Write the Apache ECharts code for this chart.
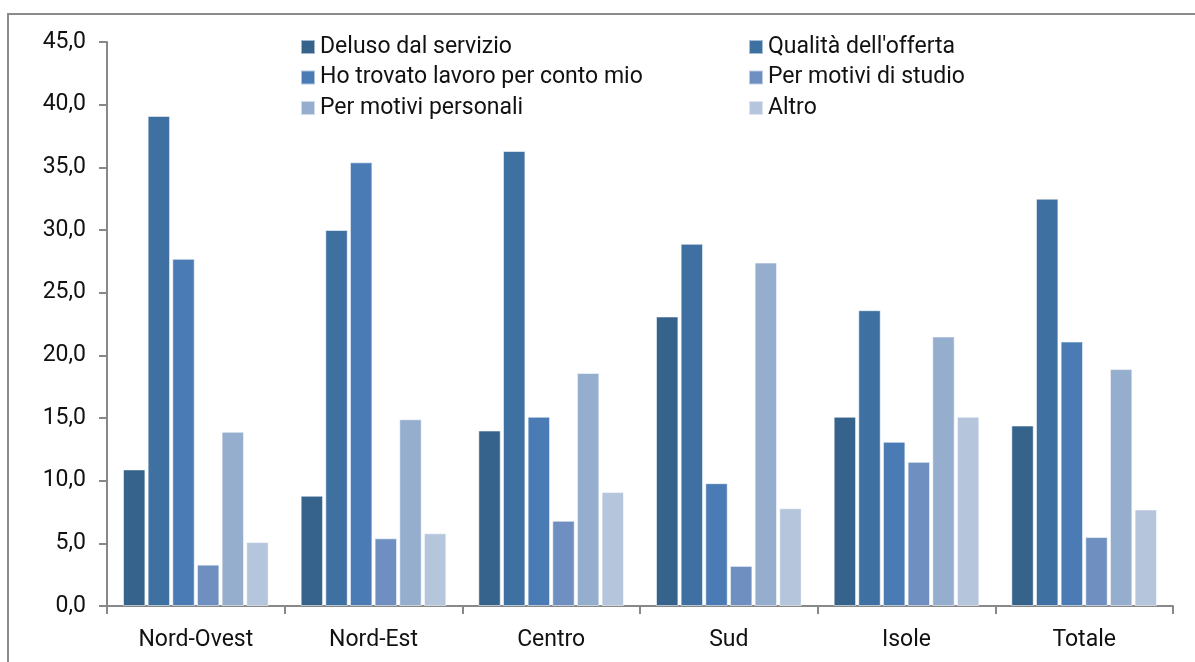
<!DOCTYPE html>
<html>
<head>
<meta charset="utf-8">
<script src="https://cdn.jsdelivr.net/npm/echarts@6/dist/echarts.min.js"></script>
<style>
html,body{margin:0;padding:0;background:#fff;}
#chart{width:1195px;height:662px;}
</style>
</head>
<body>
<div id="chart"></div>
<script>
const categories = ['Nord-Ovest','Nord-Est','Centro','Sud','Isole','Totale'];
const seriesNames = ['Deluso dal servizio','Qualità dell\'offerta','Ho trovato lavoro per conto mio','Per motivi di studio','Per motivi personali','Altro'];
const deluso    = [10.9, 8.8, 14.0, 23.1, 15.1, 14.4];
const qualita   = [39.1, 30.0, 36.3, 28.9, 23.6, 32.5];
const hoTrovato = [27.7, 35.4, 15.1, 9.8, 13.1, 21.1];
const studio    = [3.3, 5.4, 6.8, 3.2, 11.5, 5.5];
const personali = [13.9, 14.9, 18.6, 27.4, 21.5, 18.9];
const altro     = [5.1, 5.8, 9.1, 7.8, 15.1, 7.7];
const colors = ['#35638c','#3e70a1','#4a7bb4','#6e8fc0','#95aecd','#b4c5dc'];

const values = [deluso, qualita, hoTrovato, studio, personali, altro];
const FONT = 'Roboto';

const chart = echarts.init(document.getElementById('chart'), null, {renderer:'canvas'});
const legendCommon = {
  orient: 'vertical',
  top: 30,
  itemWidth: 14,
  itemHeight: 14,
  itemGap: 6.5,
  icon: 'rect',
  textStyle: {fontFamily: FONT, fontSize: 23, lineHeight: 24, color: '#111'},
  selectedMode: false
};
chart.setOption({
  animation: false,
  textStyle: {fontFamily: FONT},
  graphic: [{
    type: 'rect',
    shape: {x: 8, y: 14, width: 1300, height: 800},
    style: {fill: 'none', stroke: '#8c8c8c', lineWidth: 2},
    silent: true
  }],
  legend: [
    Object.assign({}, legendCommon, {left: 295, data: [seriesNames[0], seriesNames[2], seriesNames[4]]}),
    Object.assign({}, legendCommon, {left: 743, data: [seriesNames[1], seriesNames[3], seriesNames[5]]})
  ],
  grid: {left: 107, right: 22, top: 42, bottom: 56, containLabel: false},
  xAxis: {
    type: 'category',
    data: categories,
    axisLine: {lineStyle: {color: '#888', width: 2}},
    axisTick: {show: true, length: 8, lineStyle: {color: '#888', width: 2}, alignWithLabel: false},
    axisLabel: {fontFamily: FONT, fontSize: 23, color: '#111', margin: 23}
  },
  yAxis: {
    type: 'value',
    min: 0, max: 45, interval: 5,
    axisLine: {show: true, lineStyle: {color: '#888', width: 2}},
    axisTick: {show: true, length: 8, lineStyle: {color: '#888', width: 2}},
    splitLine: {show: false},
    axisLabel: {fontFamily: FONT, fontSize: 23, color: '#111', margin: 21,
      formatter: v => v.toFixed(1).replace('.', ',')}
  },
  series: seriesNames.map((name, i) => ({
    name: name,
    type: 'bar',
    data: values[i],
    barGap: '10%',
    barCategoryGap: '18%',
    itemStyle: {color: colors[i], borderColor: 'rgba(255,255,255,0.55)', borderWidth: 1}
  }))
});
</script>
</body>
</html>
